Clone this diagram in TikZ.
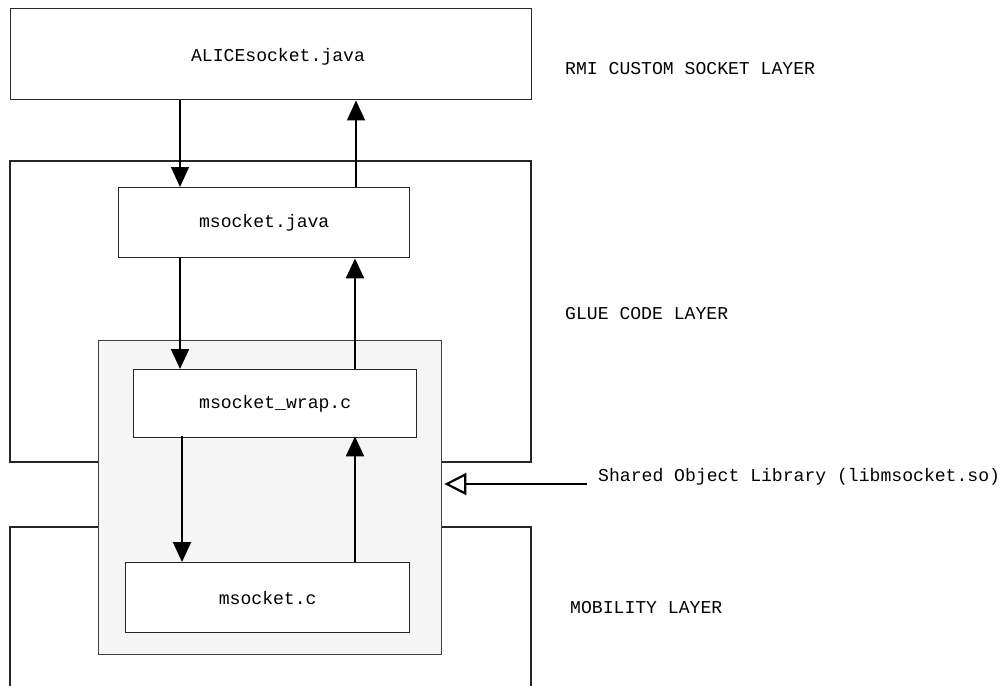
\documentclass[tikz,border=0pt]{standalone}
\usepackage{fontspec}
\setmonofont{Liberation Mono}
\usetikzlibrary{arrows.meta}
\begin{document}
\begin{tikzpicture}[x=1pt,y=-1pt,
  font=\ttfamily\fontsize{18.1}{20}\selectfont,
  layer/.style={draw=black!85, line width=1.4pt, fill=white},
  unit/.style={draw=black!85, line width=1.4pt, fill=white, inner sep=0pt},
  libbox/.style={draw=black!75, line width=1.4pt, fill=black!4},
  lbl/.style={anchor=west, inner sep=0pt},
  thin arr/.style={line width=1.3pt, -{Triangle[length=20pt,width=18pt]}},
  thick arr/.style={line width=2.2pt, -{Triangle[length=20pt,width=18pt]}},
  open arr/.style={line width=2.2pt, -{Triangle[open,length=22pt,width=22pt,line width=2.2pt]}, fill=white}]
\useasboundingbox (0,0) rectangle (1000,685);
\clip (0,0) rectangle (1000,685);

% layer frames
\node[unit, minimum width=521pt, minimum height=91pt, anchor=north west] (alice) at (10,8) {};
\node (alicetxt) at (278,57) {ALICEsocket.java};
\draw[layer] (10,161) rectangle (531,462);
\draw[layer] (10,527) rectangle (531,720);

% shared object library frame
\node[libbox, minimum width=343pt, minimum height=314pt, anchor=north west, inner sep=0pt] (lib) at (98,340) {};

% code units
\node[unit, minimum width=291pt, minimum height=70pt, anchor=north west] (mj) at (118,187) {msocket.java};
\node[unit, minimum width=283pt, minimum height=68pt, anchor=north west] (wrap) at (133,369) {msocket\_wrap.c};
\node[unit, minimum width=284pt, minimum height=70pt, anchor=north west] (mc) at (125,562) {msocket.c};

% layer captions
\node[lbl] (rmi) at (565,69) {RMI CUSTOM SOCKET LAYER};
\node[lbl] (glue) at (565,314) {GLUE CODE LAYER};
\node[lbl] (mob) at (570,608) {MOBILITY LAYER};
\node[lbl] (solib) at (598,477) {Shared Object Library (libmsocket.so)};

% arrow columns
\coordinate (dn1) at (180,0);
\coordinate (dn2) at (182,0);
\coordinate (up1) at (356,0);
\coordinate (up2) at (355,0);

% call flow
\draw[thin arr] (alice.south -| dn1) -- (dn1 |- mj.north);
\draw[thin arr] (mj.north -| up1) -- (up1 |- alice.south);
\draw[thick arr] (mj.south -| dn1) -- (dn1 |- wrap.north);
\draw[thick arr] (wrap.north -| up2) -- (up2 |- mj.south);
\draw[thick arr] ([yshift=2pt]wrap.south -| dn2) -- (dn2 |- mc.north);
\draw[thick arr] (mc.north -| up2) -- ([yshift=2pt]up2 |- wrap.south);

% library pointer
\coordinate (libtail) at (587,484);
\draw[open arr] (libtail) -- ([xshift=2pt]lib.east |- libtail);
\end{tikzpicture}
\end{document}
